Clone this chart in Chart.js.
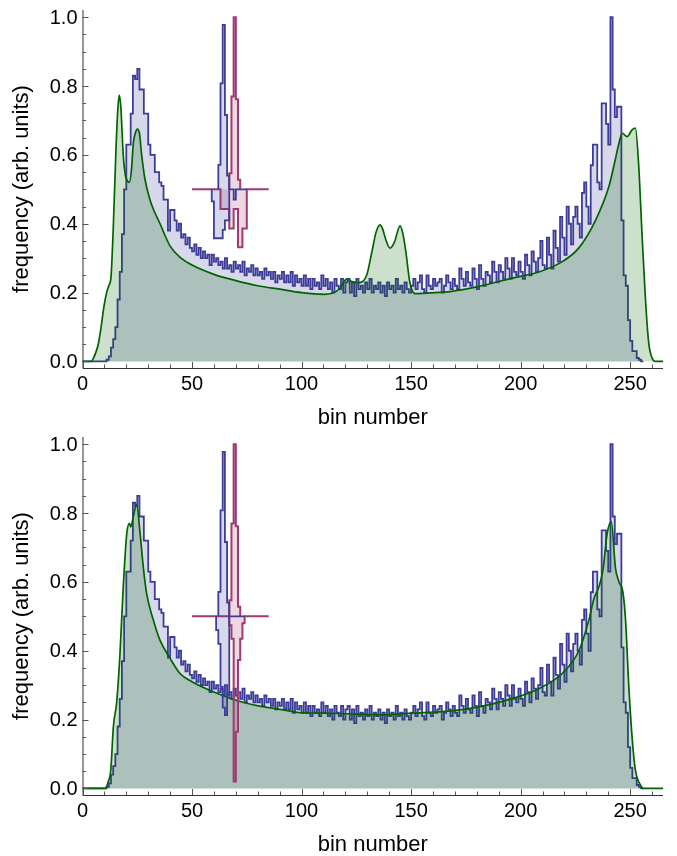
<!DOCTYPE html>
<html>
<head>
<meta charset="utf-8">
<script src="https://cdn.jsdelivr.net/npm/chart.js@4.4.0/dist/chart.umd.min.js"></script>
<style>
  body { margin: 0; background: #fff; }
  #main { position: relative; width: 677px; height: 856px; }
  canvas { position: absolute; left: 0; }
</style>
</head>
<body>
<div id="main">
  <canvas id="topChart" width="677" height="428" style="top:0px"></canvas>
  <canvas id="bottomChart" width="677" height="428" style="top:428px"></canvas>
</div>
<script>
// histogram, one value per bin (bin i covers i .. i+1)
const binValues = [
  0, 0, 0, 0, 0, 0, 0, 0, 0, 0,
  0, 0.005, 0.015, 0.04, 0.065, 0.1, 0.18, 0.26, 0.37, 0.5,
  0.63, 0.63, 0.72, 0.83, 0.82, 0.85, 0.79, 0.79, 0.72, 0.72,
  0.63, 0.6, 0.6, 0.55, 0.55, 0.52, 0.51, 0.47, 0.47, 0.38,
  0.44, 0.44, 0.41, 0.38, 0.4, 0.36, 0.37, 0.34, 0.36, 0.33,
  0.32, 0.34, 0.31, 0.33, 0.3, 0.32, 0.3, 0.31, 0.28, 0.31,
  0.29, 0.3, 0.28, 0.29, 0.27, 0.3, 0.27, 0.28, 0.26, 0.29,
  0.27, 0.28, 0.26, 0.29, 0.25, 0.27, 0.26, 0.28, 0.25, 0.27,
  0.25, 0.26, 0.24, 0.27, 0.25, 0.26, 0.24, 0.26, 0.23, 0.25,
  0.24, 0.26, 0.23, 0.25, 0.23, 0.26, 0.22, 0.25, 0.23, 0.24,
  0.22, 0.25, 0.22, 0.24, 0.21, 0.24, 0.22, 0.23, 0.21, 0.25,
  0.22, 0.24, 0.21, 0.23, 0.2, 0.24, 0.22, 0.21, 0.24, 0.2,
  0.23, 0.24, 0.2, 0.23, 0.19, 0.24, 0.21, 0.22, 0.2, 0.23,
  0.21, 0.24, 0.2, 0.22, 0.21, 0.23, 0.2, 0.22, 0.19, 0.23,
  0.21, 0.22, 0.2, 0.24, 0.21, 0.22, 0.2, 0.23, 0.21, 0.2,
  0.22, 0.24, 0.21, 0.23, 0.25, 0.21, 0.2, 0.25, 0.22, 0.21,
  0.24, 0.22, 0.23, 0.24, 0.2, 0.22, 0.25, 0.23, 0.21, 0.24,
  0.22, 0.21, 0.27, 0.24, 0.22, 0.26, 0.23, 0.22, 0.27, 0.24,
  0.21, 0.28, 0.24, 0.22, 0.26, 0.25, 0.23, 0.29, 0.26, 0.23,
  0.28, 0.26, 0.24, 0.3, 0.27, 0.24, 0.3, 0.26, 0.25, 0.29,
  0.26, 0.24, 0.31, 0.28, 0.25, 0.32, 0.29, 0.26, 0.3, 0.35,
  0.28, 0.27, 0.36, 0.31, 0.27, 0.38, 0.33, 0.29, 0.42, 0.36,
  0.31, 0.45, 0.4, 0.34, 0.42, 0.45, 0.4, 0.36, 0.49, 0.52,
  0.45, 0.4, 0.57, 0.63, 0.63, 0.52, 0.5, 0.75, 0.75, 0.69,
  0.63, 1.0, 0.79, 0.71, 0.74, 0.74, 0.41, 0.25, 0.22, 0.12,
  0.06, 0.03, 0.03, 0.01, 0.005, 0
];

// smooth curve, top panel
const curveTopX = [0, 4, 5, 6, 7.2, 8.5, 9.8, 11, 12, 13, 14, 15.3, 16.2, 16.8, 17.5, 18.6, 19.6, 20.5, 21.4, 22.4, 23.2, 24.2, 25, 26, 27, 28.5, 30.8, 32.5, 35.4, 40, 45, 50, 60, 70, 80, 90, 100, 110, 114, 117.5, 120.6, 123, 126, 129.8, 132, 134, 135.8, 137, 138.5, 140.4, 142.3, 145, 146.3, 147.5, 149.5, 151.8, 158.7, 167.8, 181, 196.1, 208.3, 219, 226.6, 234.2, 240.3, 243, 244.9, 246.4, 248.6, 250.9, 252.4, 253.9, 255.4, 257, 258.5, 260, 261.5, 265];
const curveTopY = [0, 0, 0.01, 0.025, 0.05, 0.1, 0.16, 0.2, 0.22, 0.245, 0.38, 0.62, 0.74, 0.774, 0.74, 0.6, 0.54, 0.525, 0.52, 0.56, 0.634, 0.665, 0.675, 0.663, 0.6, 0.53, 0.47, 0.44, 0.4, 0.335, 0.3, 0.28, 0.253, 0.235, 0.22, 0.21, 0.2, 0.195, 0.198, 0.212, 0.239, 0.232, 0.229, 0.252, 0.315, 0.375, 0.397, 0.385, 0.353, 0.329, 0.345, 0.394, 0.37, 0.324, 0.228, 0.197, 0.199, 0.203, 0.218, 0.242, 0.26, 0.29, 0.33, 0.41, 0.508, 0.58, 0.634, 0.663, 0.653, 0.673, 0.678, 0.57, 0.373, 0.18, 0.053, 0.01, 0, 0];

// smooth curve, bottom panel
const curveBottomX = [0, 10.3, 11.8, 12.9, 14.1, 15.6, 17.1, 18.6, 20.2, 21.4, 22, 23.2, 24.7, 26.3, 27.8, 29.3, 32.3, 35.4, 40, 44.5, 50, 60, 69.6, 80.3, 90.2, 100, 110, 120.6, 136, 150.6, 165.8, 181, 196.1, 208.3, 219, 226.6, 231.2, 233.4, 235.7, 237.6, 239.5, 241.4, 243.3, 244.9, 246.7, 247.9, 249.4, 251, 252.4, 254.7, 256.2, 265];
const curveBottomY = [0, 0, 0.02, 0.053, 0.18, 0.25, 0.39, 0.585, 0.74, 0.77, 0.76, 0.79, 0.825, 0.74, 0.64, 0.565, 0.49, 0.43, 0.378, 0.334, 0.31, 0.28, 0.257, 0.24, 0.23, 0.22, 0.219, 0.217, 0.214, 0.219, 0.224, 0.237, 0.261, 0.29, 0.334, 0.4, 0.49, 0.55, 0.585, 0.635, 0.74, 0.775, 0.64, 0.6, 0.57, 0.49, 0.295, 0.14, 0.053, 0.01, 0, 0];

// small histograms drawn about the 0.5 line
const insetBase = 0.5;
const blueUpStart = 62;
const blueUp = [0.571, 0.808, 0.978, 0.716, 0.54];
const pinkUpStart = 67;
const pinkUp = [0.547, 0.77, 1.0, 0.762, 0.528];

const blueDownTopStart = 59;
const blueDownTop = [0.465, 0.358, 0.358, 0.358, 0.358, 0.382, 0.41, 0.41, 0.5, 0.5, 0.47, 0.5, 0.5, 0.5, 0.5, 0.5];
const pinkDownTopStart = 50;
const pinkDownTop = [0.5, 0.5, 0.5, 0.5, 0.5, 0.5, 0.5, 0.5, 0.5, 0.5, 0.5, 0.5, 0.5, 0.443, 0.443, 0.443, 0.443, 0.386, 0.386, 0.443, 0.443, 0.332, 0.332, 0.386, 0.386, 0.5, 0.5, 0.5, 0.5, 0.5, 0.5, 0.5, 0.5, 0.5, 0.5];

const blueDownBottomStart = 61;
const blueDownBottom = [0.46, 0.42, 0.295, 0.235, 0.213, 0.27, 0.5, 0.5, 0.5, 0.5, 0.5, 0.5, 0.5];
const pinkDownBottomStart = 50;
const pinkDownBottom = [0.5, 0.5, 0.5, 0.5, 0.5, 0.5, 0.5, 0.5, 0.5, 0.5, 0.5, 0.5, 0.5, 0.5, 0.5, 0.5, 0.5, 0.474, 0.435, 0.02, 0.165, 0.373, 0.435, 0.48, 0.5, 0.5, 0.5, 0.5, 0.5, 0.5, 0.5, 0.5, 0.5, 0.5, 0.5];

const xTicks = [0, 50, 100, 150, 200, 250];
const yTicks = [0, 0.2, 0.4, 0.6, 0.8, 1.0];
const xLabel = 'bin number';
const yLabel = 'frequency (arb. units)';

const FONT = '"Liberation Sans", Arial, Helvetica, sans-serif';
const blueLine = 'rgb(61,61,153)';
const blueFill = 'rgba(61,61,153,0.2)';
const pinkLine = 'rgb(160,58,112)';
const pinkFill = 'rgba(160,58,112,0.2)';
const greenLine = 'rgb(0,100,0)';
const greenFill = 'rgba(0,100,0,0.2)';

// step points: bin edges, value of bin i held from i to i+1
function stepPoints(start, values, base) {
  var pts = [{x: start, y: base}];
  for (let i = 0; i < values.length; i++) {
    pts.push({x: start + i, y: values[i]});
  }
  pts.push({x: start + values.length, y: base});
  return pts;
}

function curvePoints(xs, ys) {
  return xs.map(function (x, i) { return {x: x, y: ys[i]}; });
}

const axesPlugin = {
  id: 'mmaAxes',
  afterDraw: function (chart) {
    var ctx = chart.ctx;
    var a = chart.chartArea;
    var xs = chart.scales.x, ys = chart.scales.y;
    ctx.save();
    ctx.strokeStyle = '#333';
    ctx.lineWidth = 1;
    ctx.beginPath();
    ctx.moveTo(a.left + 0.5, a.top);
    ctx.lineTo(a.left + 0.5, a.bottom + 0.5);
    ctx.lineTo(a.right, a.bottom + 0.5);
    ctx.stroke();

    ctx.strokeStyle = '#555';
    ctx.beginPath();
    for (let v = 0; v <= 265; v += 10) {
      var px = Math.round(xs.getPixelForValue(v)) + 0.5;
      var len = (v % 50 === 0) ? 6 : 3.5;
      ctx.moveTo(px, a.bottom);
      ctx.lineTo(px, a.bottom - len);
    }
    for (let k = 0; k <= 20; k++) {
      var py = Math.round(ys.getPixelForValue(k * 0.05)) + 0.5;
      var l2 = (k % 4 === 0) ? 6 : 3.5;
      ctx.moveTo(a.left, py);
      ctx.lineTo(a.left + l2, py);
    }
    ctx.stroke();

    ctx.fillStyle = '#000';
    ctx.font = '20px ' + FONT;
    ctx.textAlign = 'center';
    ctx.textBaseline = 'top';
    xTicks.forEach(function (t) {
      ctx.fillText(String(t), xs.getPixelForValue(t), a.bottom + 6);
    });
    ctx.textAlign = 'right';
    ctx.textBaseline = 'middle';
    yTicks.forEach(function (t) {
      ctx.fillText(t.toFixed(1), a.left - 5, ys.getPixelForValue(t) + 1);
    });

    ctx.font = '22px ' + FONT;
    ctx.textAlign = 'center';
    ctx.textBaseline = 'middle';
    ctx.fillText(xLabel, (a.left + a.right) / 2, a.bottom + 50);
    ctx.translate(22, (a.top + a.bottom) / 2);
    ctx.rotate(-Math.PI / 2);
    ctx.fillText(yLabel, 0, 0);
    ctx.restore();
  }
};

function makeChart(canvasId, curveX, curveY, blueDownStart, blueDown, pinkDownStart, pinkDown, pad) {
  var ctx = document.getElementById(canvasId);
  return new Chart(ctx, {
    type: 'line',
    data: {
      datasets: [
        {
          data: stepPoints(0, binValues, 0),
          stepped: 'before',
          borderColor: blueLine,
          backgroundColor: blueFill,
          borderWidth: 1.8,
          fill: 'origin',
          pointRadius: 0,
          order: 5
        },
        {
          data: curvePoints(curveX, curveY),
          cubicInterpolationMode: 'monotone',
          borderColor: greenLine,
          backgroundColor: greenFill,
          borderWidth: 1.7,
          fill: 'origin',
          pointRadius: 0,
          order: 4
        },
        {
          data: stepPoints(pinkDownStart, pinkDown, insetBase),
          stepped: 'before',
          borderColor: pinkLine,
          backgroundColor: pinkFill,
          borderWidth: 2,
          fill: {value: insetBase},
          pointRadius: 0,
          order: 3
        },
        {
          data: stepPoints(pinkUpStart, pinkUp, insetBase),
          stepped: 'before',
          borderColor: pinkLine,
          backgroundColor: pinkFill,
          borderWidth: 2,
          fill: {value: insetBase},
          pointRadius: 0,
          order: 2
        },
        {
          data: stepPoints(blueDownStart, blueDown, insetBase),
          stepped: 'before',
          borderColor: blueLine,
          backgroundColor: blueFill,
          borderWidth: 1.8,
          fill: {value: insetBase},
          pointRadius: 0,
          order: 1
        },
        {
          data: stepPoints(blueUpStart, blueUp, insetBase),
          stepped: 'before',
          borderColor: blueLine,
          backgroundColor: blueFill,
          borderWidth: 1.8,
          fill: {value: insetBase},
          pointRadius: 0,
          order: 0
        }
      ]
    },
    options: {
      responsive: false,
      animation: false,
      devicePixelRatio: 1,
      layout: { padding: pad },
      plugins: { legend: { display: false }, tooltip: { enabled: false } },
      scales: {
        x: { type: 'linear', min: 0, max: 265, display: false },
        y: { type: 'linear', min: -0.019, max: 1.021, display: false }
      }
    },
    plugins: [axesPlugin]
  });
}

makeChart('topChart', curveTopX, curveTopY, blueDownTopStart, blueDownTop, pinkDownTopStart, pinkDownTop,
  {left: 82.5, right: 14, top: 10, bottom: 60});
makeChart('bottomChart', curveBottomX, curveBottomY, blueDownBottomStart, blueDownBottom, pinkDownBottomStart, pinkDownBottom,
  {left: 82.5, right: 14, top: 9, bottom: 61});
</script>
</body>
</html>
